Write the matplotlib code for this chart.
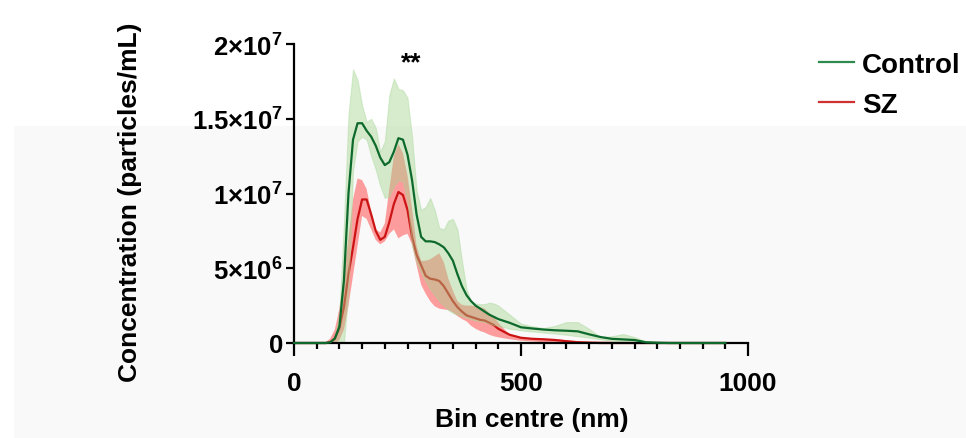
import numpy as np
import matplotlib
matplotlib.use('Agg')
import matplotlib.pyplot as plt
from matplotlib.patches import Rectangle
from matplotlib.ticker import MultipleLocator, FixedLocator

plt.rcParams['font.family'] = ['Liberation Sans', 'DejaVu Sans']
plt.rcParams['font.weight'] = 'bold'
plt.rcParams['mathtext.fontset'] = 'custom'
plt.rcParams['mathtext.rm'] = 'Liberation Sans:bold'
plt.rcParams['mathtext.it'] = 'Liberation Sans:bold'
plt.rcParams['mathtext.bf'] = 'Liberation Sans:bold'
plt.rcParams['mathtext.default'] = 'rm'

# bin centres (nm)
bins = [0, 50, 60, 70, 80, 90, 100, 110, 120, 130, 140, 150, 160, 170, 180, 190,
        200, 210, 220, 230, 240, 250, 260, 270, 280, 290, 300, 310, 320, 330, 340,
        350, 360, 370, 380, 390, 400, 410, 420, 430, 440, 450, 475, 500, 525, 550,
        575, 600, 625, 650, 675, 700, 725, 750, 775, 800, 825, 850, 875, 900, 925, 950]

# concentrations in units of 1e6 particles/mL
control_mean = [0, 0, 0, 0, 0.05, 0.3, 1.1, 4.2, 10.0, 13.6, 14.7, 14.7, 14.2, 13.8, 13.2, 12.4,
                11.9, 12.1, 12.8, 13.7, 13.6, 12.6, 10.9, 8.6, 7.1, 6.8, 6.8, 6.75, 6.6, 6.4, 6.0,
                5.5, 4.6, 3.8, 3.2, 2.8, 2.5, 2.3, 2.1, 1.9, 1.75, 1.6, 1.35, 1.05, 0.97, 0.9,
                0.85, 0.82, 0.78, 0.58, 0.4, 0.28, 0.24, 0.2, 0.05, 0.02, 0, 0, 0, 0, 0, 0]
control_hi = [0, 0, 0, 0, 0.05, 0.4, 2.0, 8.0, 15.3, 18.3, 17.6, 15.9, 14.8, 15.0, 14.4, 12.8,
              13.5, 16.6, 17.7, 17.0, 16.9, 16.4, 13.8, 10.2, 8.9, 9.1, 9.7, 8.9, 7.7, 7.6, 8.2,
              8.3, 7.6, 5.5, 3.6, 2.8, 2.65, 2.6, 2.6, 2.7, 2.65, 2.5, 1.9, 1.3, 1.12, 1.0,
              1.15, 1.4, 1.4, 0.95, 0.4, 0.45, 0.6, 0.4, 0.1, 0.02, 0, 0, 0, 0, 0, 0]
control_lo = [0, 0, 0, 0, 0, 0, 0, 0, 3.5, 11.5, 13.5, 13.8, 13.6, 12.5, 11.6, 10.5,
              9.7, 9.8, 10.5, 10.9, 10.8, 9.5, 6.5, 5.4, 4.7, 4.1, 3.6, 3.2, 2.8, 2.5, 2.2,
              2.0, 1.9, 1.8, 1.7, 1.6, 1.5, 1.45, 1.4, 1.3, 1.2, 1.15, 0.95, 0.85, 0.77, 0.7,
              0.63, 0.55, 0.45, 0.36, 0.25, 0.15, 0.1, 0.04, 0, 0, 0, 0, 0, 0, 0, 0]

sz_mean = [0, 0, 0, 0, 0.05, 0.3, 1.0, 2.4, 4.6, 6.4, 8.3, 9.6, 9.6, 8.6, 7.5, 6.9,
           7.1, 8.1, 9.3, 10.1, 9.9, 8.9, 7.1, 5.9, 5.2, 4.5, 4.3, 4.25, 4.15, 3.8, 3.3,
           2.8, 2.4, 2.1, 1.85, 1.75, 1.65, 1.55, 1.5, 1.35, 1.2, 0.95, 0.55, 0.35, 0.28, 0.25,
           0.2, 0.12, 0.05, 0.02, 0, 0, 0, 0, 0, 0, 0, 0, 0, 0, 0, 0]
sz_hi = [0, 0, 0, 0.05, 0.3, 0.9, 2.3, 4.5, 7.0, 9.6, 11.0, 10.9, 10.3, 8.8, 7.6, 7.4,
         8.0, 10.3, 12.5, 13.3, 12.7, 11.2, 9.0, 6.5, 5.5, 5.5, 5.6, 5.8, 6.0, 5.4, 4.3,
         3.5, 2.8, 2.55, 2.5, 2.5, 2.45, 2.4, 2.3, 2.0, 1.75, 1.35, 0.55, 0.38, 0.3, 0.27,
         0.27, 0.18, 0.12, 0.1, 0.1, 0.08, 0.03, 0, 0, 0, 0, 0, 0, 0, 0, 0]
sz_lo = [0, 0, 0, 0, 0, 0, 0.2, 0.9, 2.5, 4.5, 6.5, 8.5, 8.3, 7.6, 6.9, 6.6,
         6.8, 7.3, 7.6, 7.0, 7.2, 7.3, 6.6, 5.2, 3.9, 3.3, 2.8, 2.45, 2.3, 2.25, 2.2,
         2.05, 1.8, 1.6, 1.45, 1.15, 0.95, 0.8, 0.7, 0.55, 0.45, 0.38, 0.25, 0.15, 0.1, 0.05,
         0.02, 0, 0, 0, 0, 0, 0, 0, 0, 0, 0, 0, 0, 0, 0, 0]

ytick_vals = [0, 5e6, 1e7, 1.5e7, 2e7]
ytick_labels = ['0', '5×10$^{6}$', '1×10$^{7}$', '1.5×10$^{7}$', '2×10$^{7}$']
xtick_vals = [0, 500, 1000]

x = np.array(bins)
scale = 1e6

fig = plt.figure(figsize=(9.66, 4.39), dpi=100)
# light grey panel behind the lower part of the figure
fig.patches.append(Rectangle((14 / 966, 0), 1, (439 - 127) / 439, transform=fig.transFigure,
                             facecolor='#f9f9f9', edgecolor='none', zorder=-10))

ax = fig.add_axes([294 / 966, (439 - 344) / 439, (748 - 294) / 966, (344 - 45) / 439])
ax.patch.set_alpha(0)

green = '#0e6a2c'
red = '#cc1414'

ax.fill_between(x, np.array(sz_lo) * scale, np.array(sz_hi) * scale,
                facecolor='#ff6b6b', alpha=0.65, linewidth=0, zorder=1)
ax.plot(x, np.array(sz_mean) * scale, color=red, lw=1.6, zorder=1.5, clip_on=False)
ax.fill_between(x, np.array(control_lo) * scale, np.array(control_hi) * scale,
                facecolor='#9fd38a', edgecolor='#a9d99a', alpha=0.42, linewidth=0.8, zorder=2)
ax.plot(x, np.array(control_mean) * scale, color=green, lw=1.6, zorder=3, clip_on=False)

ax.set_xlim(0, 1000)
ax.set_ylim(0, 2e7)
ax.xaxis.set_major_locator(FixedLocator(xtick_vals))
ax.xaxis.set_minor_locator(MultipleLocator(50))
ax.yaxis.set_major_locator(FixedLocator(ytick_vals))
ax.set_yticklabels(ytick_labels)

for s in ['top', 'right']:
    ax.spines[s].set_visible(False)
for s in ['left', 'bottom']:
    ax.spines[s].set_linewidth(1.6)

ax.tick_params(axis='x', which='major', length=9, width=1.6, labelsize=19, pad=11)
ax.tick_params(axis='x', which='minor', length=4.5, width=1.6)
ax.tick_params(axis='y', which='major', length=6, width=1.6, labelsize=18.5, pad=2)

ax.set_xlabel('Bin centre (nm)', fontsize=19, fontweight='bold')
ax.set_ylabel('Concentration (particles/mL)', fontsize=19, fontweight='bold')
ax.xaxis.set_label_coords(0.524, -0.215)
ax.yaxis.set_label_coords(-0.335, 0.475)

ax.text(258, 1.88e7, '**', fontsize=19, fontweight='bold', ha='center', va='center')

ax.plot([], [], color='#2e8b4f', lw=1.6, label='Control')
ax.plot([], [], color='#d03030', lw=1.6, label='SZ')
handles, labels = ax.get_legend_handles_labels()
fig.legend(handles[-2:], labels[-2:], loc='upper left', bbox_to_anchor=(808 / 966, 1 - 42 / 439),
           frameon=False, fontsize=20, handlelength=1.25, handletextpad=0.3,
           labelspacing=0.5, borderaxespad=0)

fig.savefig('out.png', dpi=100)
